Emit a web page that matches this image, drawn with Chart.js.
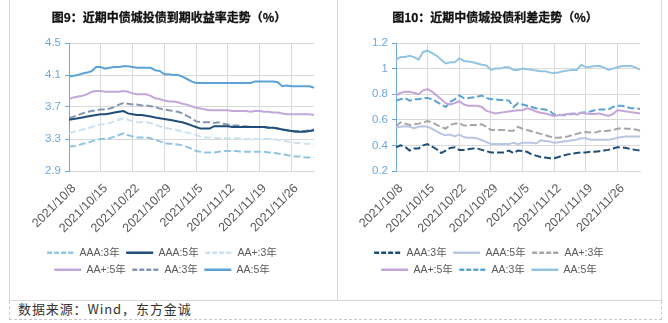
<!DOCTYPE html>
<html><head><meta charset="utf-8">
<script src="https://cdn.jsdelivr.net/npm/chart.js@4.4.0/dist/chart.umd.min.js"></script>
<style>
html,body{margin:0;padding:0;background:#fff;width:668px;height:323px;overflow:hidden}
#wrap{position:relative;width:668px;height:323px}
.v{position:absolute;top:0;width:1px;height:300px;background:#d9d9d9}
.h{position:absolute;left:9px;top:300px;width:653px;height:1px;background:#d9d9d9}
#src{position:absolute;left:9px;top:301px;width:653px;height:19px;box-sizing:border-box;border:1px dashed #c8c8c8;border-top:none}
#srct{position:absolute;left:18px;top:300px;font:13px 'Noto Sans CJK SC',sans-serif;letter-spacing:0.9px;color:#333;line-height:18px;white-space:nowrap}
.t{position:absolute;top:9px;width:320px;text-align:center;font:bold 12px 'Noto Sans CJK SC',sans-serif;color:#111;line-height:16px;white-space:nowrap;-webkit-text-stroke:0.3px #111}
canvas{position:absolute;top:0}
</style></head><body><div id="wrap">
<div class="v" style="left:9px"></div><div class="v" style="left:337px"></div><div class="v" style="left:661px"></div>
<div class="h"></div><div id="src"></div><div id="srct">数据来源：Wind，东方金诚</div>
<canvas id="c1" width="326" height="299" style="left:10px;width:326px;height:299px"></canvas>
<canvas id="c2" width="322" height="299" style="left:338px;width:322px;height:299px"></canvas>
<div class="t" style="left:9px">图9：近期中债城投债到期收益率走势（%）</div>
<div class="t" style="left:335px">图10：近期中债城投债利差走势（%）</div>
</div>
<script>
const dates = ['2021/10/8','2021/10/9','2021/10/10','2021/10/11','2021/10/12','2021/10/13','2021/10/14','2021/10/15','2021/10/16','2021/10/17','2021/10/18','2021/10/19','2021/10/20','2021/10/21','2021/10/22','2021/10/23','2021/10/24','2021/10/25','2021/10/26','2021/10/27','2021/10/28','2021/10/29','2021/10/30','2021/10/31','2021/11/1','2021/11/2','2021/11/3','2021/11/4','2021/11/5','2021/11/6','2021/11/7','2021/11/8','2021/11/9','2021/11/10','2021/11/11','2021/11/12','2021/11/13','2021/11/14','2021/11/15','2021/11/16','2021/11/17','2021/11/18','2021/11/19','2021/11/20','2021/11/21','2021/11/22','2021/11/23','2021/11/24','2021/11/25','2021/11/26','2021/11/27','2021/11/28','2021/11/29','2021/11/30','2021/12/1'];
const tickDates = ['2021/10/8','2021/10/15','2021/10/22','2021/10/29','2021/11/5','2021/11/12','2021/11/19','2021/11/26'];
const seriesNames = ['AAA:3年','AAA:5年','AA+:3年','AA+:5年','AA:3年','AA:5年'];

// 图9 yields (%)
const yAAA3 = [3.21,3.21,3.22,3.24,3.25,3.27,3.29,3.30,3.30,3.31,3.33,3.35,3.37,3.35,3.33,3.32,3.32,3.32,3.31,3.29,3.27,3.25,3.24,3.24,3.23,3.22,3.20,3.18,3.15,3.14,3.13,3.13,3.13,3.14,3.15,3.15,3.15,3.15,3.14,3.14,3.14,3.14,3.14,3.14,3.13,3.13,3.12,3.11,3.10,3.09,3.08,3.08,3.07,3.07,3.07];
const yAAA5 = [3.54,3.55,3.56,3.57,3.58,3.59,3.60,3.61,3.61,3.62,3.63,3.64,3.65,3.62,3.61,3.60,3.60,3.59,3.58,3.57,3.56,3.55,3.54,3.53,3.52,3.51,3.49,3.47,3.45,3.43,3.43,3.43,3.46,3.46,3.46,3.46,3.45,3.45,3.45,3.45,3.45,3.45,3.45,3.45,3.44,3.44,3.43,3.42,3.41,3.40,3.39,3.39,3.39,3.40,3.41];
const yAAp3 = [3.37,3.39,3.40,3.42,3.43,3.45,3.47,3.48,3.49,3.50,3.52,3.54,3.56,3.54,3.52,3.51,3.51,3.51,3.50,3.48,3.46,3.44,3.43,3.42,3.41,3.39,3.38,3.37,3.35,3.33,3.32,3.32,3.31,3.31,3.31,3.31,3.31,3.31,3.31,3.30,3.30,3.30,3.30,3.30,3.30,3.30,3.29,3.28,3.27,3.26,3.25,3.25,3.24,3.24,3.23];
const yAAp5 = [3.80,3.82,3.83,3.84,3.86,3.89,3.90,3.90,3.89,3.89,3.89,3.89,3.90,3.89,3.87,3.86,3.86,3.86,3.84,3.81,3.80,3.78,3.77,3.77,3.76,3.74,3.73,3.71,3.69,3.68,3.67,3.66,3.66,3.66,3.66,3.66,3.65,3.65,3.65,3.65,3.64,3.65,3.65,3.64,3.64,3.63,3.63,3.62,3.61,3.61,3.61,3.61,3.61,3.61,3.60];
const yAA3 = [3.56,3.58,3.60,3.62,3.64,3.65,3.66,3.67,3.67,3.68,3.70,3.73,3.75,3.74,3.73,3.73,3.72,3.72,3.71,3.70,3.68,3.67,3.66,3.65,3.64,3.62,3.59,3.56,3.52,3.51,3.51,3.51,3.50,3.51,3.49,3.48,3.47,3.47,3.46,3.46,3.45,3.45,3.45,3.45,3.44,3.44,3.43,3.42,3.41,3.40,3.40,3.40,3.40,3.41,3.42];
const yAA5 = [4.08,4.09,4.10,4.12,4.13,4.15,4.20,4.20,4.18,4.19,4.20,4.20,4.21,4.21,4.20,4.19,4.19,4.19,4.19,4.16,4.15,4.11,4.11,4.10,4.10,4.08,4.05,4.02,4.00,4.00,4.00,4.00,4.00,4.00,4.00,4.00,4.00,4.00,4.00,4.00,4.00,4.02,4.02,4.02,4.02,4.02,4.01,3.96,3.97,3.96,3.96,3.96,3.96,3.96,3.94];

// 图10 spreads (%)
const sAAA3 = [0.385,0.40,0.39,0.36,0.375,0.375,0.40,0.41,0.39,0.37,0.34,0.36,0.38,0.385,0.365,0.365,0.37,0.375,0.375,0.365,0.355,0.345,0.345,0.345,0.345,0.36,0.34,0.36,0.355,0.35,0.33,0.32,0.31,0.305,0.30,0.30,0.31,0.32,0.33,0.335,0.34,0.345,0.345,0.35,0.35,0.355,0.36,0.365,0.375,0.385,0.385,0.38,0.37,0.365,0.36];
const sAAA5 = [0.54,0.545,0.55,0.545,0.535,0.545,0.55,0.545,0.53,0.51,0.49,0.48,0.485,0.47,0.485,0.465,0.46,0.46,0.455,0.44,0.425,0.41,0.41,0.41,0.41,0.41,0.42,0.41,0.42,0.42,0.42,0.415,0.44,0.435,0.43,0.42,0.425,0.43,0.435,0.44,0.445,0.455,0.455,0.445,0.445,0.445,0.445,0.445,0.45,0.46,0.465,0.47,0.47,0.47,0.47];
const sAAp3 = [0.55,0.58,0.57,0.56,0.565,0.57,0.58,0.59,0.58,0.56,0.545,0.53,0.56,0.57,0.575,0.555,0.555,0.56,0.56,0.565,0.545,0.52,0.52,0.52,0.52,0.515,0.515,0.545,0.53,0.52,0.51,0.50,0.49,0.48,0.47,0.46,0.46,0.465,0.47,0.48,0.49,0.50,0.505,0.50,0.50,0.51,0.51,0.515,0.52,0.53,0.535,0.53,0.53,0.525,0.515];
const sAAp5 = [0.79,0.81,0.82,0.82,0.81,0.80,0.83,0.84,0.82,0.79,0.76,0.73,0.72,0.73,0.745,0.72,0.71,0.71,0.71,0.70,0.67,0.66,0.65,0.655,0.66,0.665,0.67,0.675,0.675,0.69,0.68,0.665,0.655,0.65,0.64,0.63,0.635,0.64,0.645,0.65,0.64,0.655,0.65,0.645,0.645,0.65,0.64,0.63,0.645,0.675,0.67,0.665,0.66,0.655,0.65];
const sAA3 = [0.75,0.76,0.77,0.75,0.76,0.76,0.77,0.77,0.76,0.74,0.72,0.70,0.74,0.76,0.79,0.77,0.77,0.775,0.78,0.79,0.77,0.76,0.76,0.755,0.755,0.75,0.70,0.73,0.72,0.71,0.70,0.69,0.685,0.68,0.67,0.64,0.64,0.635,0.64,0.645,0.65,0.655,0.66,0.665,0.675,0.68,0.68,0.68,0.70,0.71,0.71,0.70,0.69,0.69,0.685];
const sAA5 = [1.07,1.09,1.09,1.10,1.09,1.07,1.13,1.14,1.12,1.10,1.07,1.04,1.05,1.05,1.08,1.06,1.055,1.05,1.04,1.03,1.025,0.99,1.00,1.00,1.01,1.01,0.99,0.99,1.00,0.995,0.99,0.985,0.98,0.98,0.97,0.965,0.97,0.98,0.985,0.99,0.99,1.03,1.01,1.015,1.02,1.02,1.01,0.99,1.00,1.01,1.02,1.02,1.02,1.01,0.99];

const yTicks = [2.9,3.3,3.7,4.1,4.5];
const sTicks = [0.2,0.4,0.6,0.8,1.0,1.2];

const FONT = "'Liberation Sans','Noto Sans CJK SC',sans-serif";
const DASH = [7,3];

function ds(label, data, color, dashed){
  return {label, data, borderColor:color, backgroundColor:color, borderWidth:2,
    borderDash: dashed ? DASH : [], pointRadius:0, tension:0, fill:false};
}

function legendLabels(chart){
  const items = Chart.defaults.plugins.legend.labels.generateLabels(chart);
  items.forEach(it => {
    const d = chart.data.datasets[it.datasetIndex];
    it.lineDash = d.borderDash.length ? [5,2] : [];
    it.strokeStyle = d.borderColor;
    it.fillStyle = d.borderColor;
    it.lineWidth = 2.5;
    it.pointStyle = 'line';
  });
  return items;
}

function makeChart(id, datasets, ticks, axisW, padRight){
  const axisBlue = '#6fa8dc';
  return new Chart(document.getElementById(id), {
    type:'line',
    data:{labels:dates, datasets},
    options:{
      responsive:false, animation:false, devicePixelRatio:1,
      layout:{padding:{left:0,right:padRight,top:43,bottom:14}},
      plugins:{
        title:{display:false},
        legend:{position:'bottom',labels:{usePointStyle:true,pointStyle:'line',pointStyleWidth:27,color:'#595959',font:{family:FONT,size:10.5},padding:6.5,generateLabels:legendLabels}},
        tooltip:{enabled:false}
      },
      scales:{
        x:{type:'category',
          grid:{color:'#d9d9d9',drawTicks:false,lineWidth:1},
          border:{color:'#d9d9d9'},
          ticks:{autoSkip:false,minRotation:45,maxRotation:45,color:'#595959',font:{family:FONT,size:12.5},padding:10,labelOffset:5,
            callback:function(v,i){const l=dates[i];return tickDates.includes(l)?l:null;}},
          afterFit:function(s){s.height=70;}
        },
        y:{min:ticks[0],max:ticks[ticks.length-1],
          afterBuildTicks:function(s){s.ticks=ticks.map(v=>({value:v}));},
          ticks:{color:axisBlue,font:{family:FONT,size:11.5},padding:4,callback:v=>String(Number(v.toFixed(1)))},
          grid:{color:'#d9d9d9',tickColor:axisBlue,tickLength:4},
          border:{color:axisBlue},
          afterFit:function(s){s.width=axisW;}
        }
      }
    }
  });
}

makeChart('c1',[
  ds(seriesNames[0], yAAA3, '#92c5e2', true),
  ds(seriesNames[1], yAAA5, '#1f4e79', false),
  ds(seriesNames[2], yAAp3, '#cde2f0', true),
  ds(seriesNames[3], yAAp5, '#c2a8da', false),
  ds(seriesNames[4], yAA3, '#8497b0', true),
  ds(seriesNames[5], yAA5, '#5ba3d6', false)
], yTicks, 59, 22);

makeChart('c2',[
  ds(seriesNames[0], sAAA3, '#1f4e79', true),
  ds(seriesNames[1], sAAA5, '#b9c6e2', false),
  ds(seriesNames[2], sAAp3, '#a6a6a6', true),
  ds(seriesNames[3], sAAp5, '#c3a5d9', false),
  ds(seriesNames[4], sAA3, '#5ba3d6', true),
  ds(seriesNames[5], sAA5, '#92c5e2', false)
], sTicks, 58, 20);
</script></body></html>
